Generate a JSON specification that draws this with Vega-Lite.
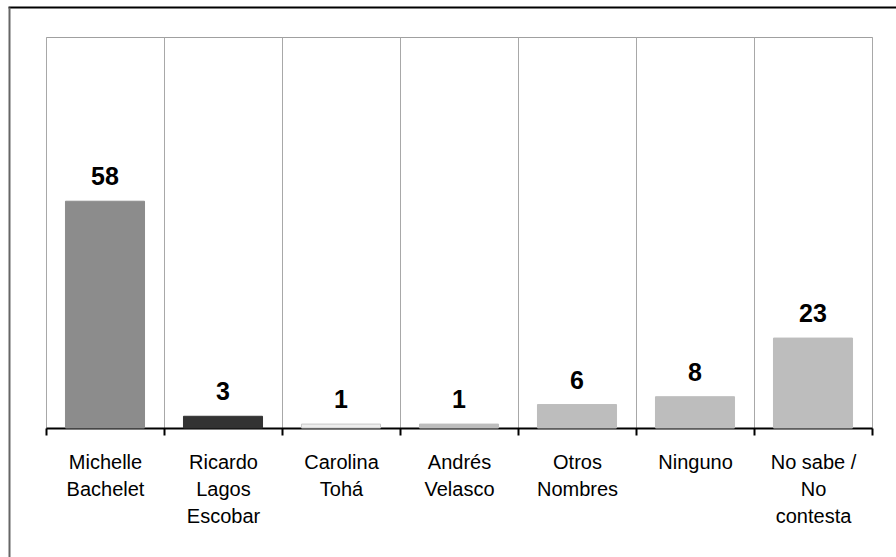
{
  "$schema": "https://vega.github.io/schema/vega-lite/v6.json",
  "autosize": {"type": "none"},
  "width": 826,
  "height": 391,
  "padding": {"left": 46, "top": 37, "right": 24, "bottom": 129},
  "background": "white",
  "config": {
    "view": {"stroke": "#a0a0a0", "strokeWidth": 1},
    "font": "Liberation Sans"
  },
  "data": {
    "values": [
      {"candidato": "Michelle Bachelet", "valor": 58, "color": "#8c8c8c", "borde": "#8c8c8c"},
      {"candidato": "Ricardo Lagos Escobar", "valor": 3, "color": "#333333", "borde": "#333333"},
      {"candidato": "Carolina Tohá", "valor": 1, "color": "#eeeeee", "borde": "#c8c8c8"},
      {"candidato": "Andrés Velasco", "valor": 1, "color": "#bdbdbd", "borde": "#bdbdbd"},
      {"candidato": "Otros Nombres", "valor": 6, "color": "#bdbdbd", "borde": "#bdbdbd"},
      {"candidato": "Ninguno", "valor": 8, "color": "#bdbdbd", "borde": "#bdbdbd"},
      {"candidato": "No sabe / No contesta", "valor": 23, "color": "#bdbdbd", "borde": "#bdbdbd"}
    ]
  },
  "layer": [
    {
      "encoding": {
        "x": {
          "field": "candidato",
          "type": "nominal",
          "sort": null,
          "scale": {"paddingInner": 0, "paddingOuter": 0},
          "axis": {
            "title": null,
            "labelAngle": 0,
            "tickBand": "extent",
            "labelExpr": "datum.value == 'Michelle Bachelet' ? ['Michelle','Bachelet'] : datum.value == 'Ricardo Lagos Escobar' ? ['Ricardo','Lagos','Escobar'] : datum.value == 'Carolina Tohá' ? ['Carolina','Tohá'] : datum.value == 'Andrés Velasco' ? ['Andrés','Velasco'] : datum.value == 'Otros Nombres' ? ['Otros','Nombres'] : datum.value == 'No sabe / No contesta' ? ['No sabe /','No','contesta'] : datum.value",
            "labelFont": "Liberation Sans",
            "labelFontSize": 20,
            "labelColor": "#000000",
            "labelLineHeight": 27,
            "labelPadding": 17,
            "labelBaseline": "top",
            "domainColor": "#000000",
            "domainWidth": 2,
            "tickColor": "#000000",
            "tickWidth": 2,
            "tickSize": 7,
            "grid": true,
            "gridColor": "#a8a8a8",
            "gridWidth": 1
          }
        },
        "y": {
          "field": "valor",
          "type": "quantitative",
          "scale": {"domain": [0, 100], "nice": false},
          "axis": null
        }
      },
      "layer": [
        {
          "mark": {"type": "bar", "width": {"band": 0.67}, "strokeWidth": 1},
          "encoding": {
            "color": {"field": "color", "type": "nominal", "scale": null},
            "stroke": {"field": "borde", "type": "nominal", "scale": null}
          }
        },
        {
          "mark": {"type": "text", "dy": -16, "baseline": "alphabetic", "fontSize": 25, "fontWeight": "bold", "font": "Liberation Sans", "color": "#000000"},
          "encoding": {
            "text": {"field": "valor", "type": "quantitative"}
          }
        }
      ]
    },
    {
      "mark": {"type": "point", "opacity": 0},
      "encoding": {
        "x": {
          "field": "valor",
          "type": "quantitative",
          "scale": {"domain": [0, 100], "range": [-38, 860], "nice": false, "zero": true},
          "axis": {"orient": "top", "offset": 30, "title": null, "labels": false, "ticks": false, "grid": false, "domainColor": "#000000", "domainWidth": 2}
        },
        "y": {
          "field": "valor",
          "type": "quantitative",
          "scale": {"domain": [0, 100], "range": [540, -30], "nice": false},
          "axis": {"orient": "left", "offset": 37, "title": null, "labels": false, "ticks": false, "grid": false, "domainColor": "#666666", "domainWidth": 2}
        }
      }
    }
  ],
  "resolve": {"scale": {"x": "independent", "y": "independent"}, "axis": {"x": "independent", "y": "independent"}}
}
